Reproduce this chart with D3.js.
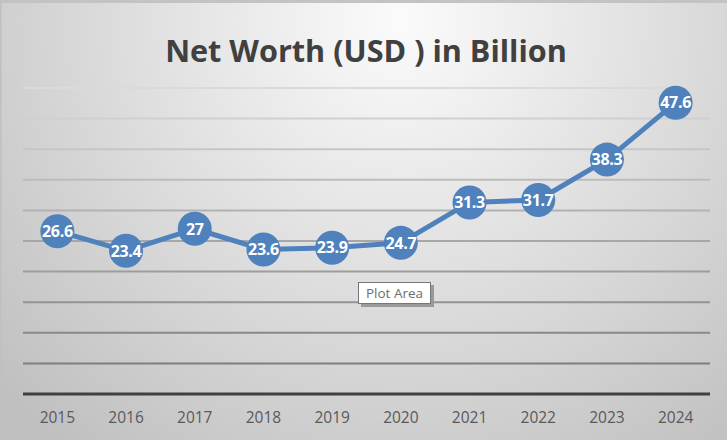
<!DOCTYPE html>
<html>
  <head>
    <meta charset="utf-8">
    <title>Net Worth Line Chart</title>
    <style>
      body { margin: 0; }
      .chart { font-family: "Open Sans", Arial, sans-serif; }
      .x.axis path, .x.axis line { display: none; }
    </style>
  </head>
  <body>
    <div class="chart"></div>

    <script src="https://d3js.org/d3.v7.min.js"></script>
    <script>
      // Chart data
      var years = ["2015", "2016", "2017", "2018", "2019", "2020", "2021", "2022", "2023", "2024"];
      var netWorth = [26.6, 23.4, 27, 23.6, 23.9, 24.7, 31.3, 31.7, 38.3, 47.6];
      var yTicks = [0, 5, 10, 15, 20, 25, 30, 35, 40, 45, 50];

      var W = 727, H = 440;
      var margin = {top: 88, right: 17, bottom: 46, left: 23};
      var width = W - margin.left - margin.right;
      var height = H - margin.top - margin.bottom;

      var svg = d3.select(".chart").append("svg")
        .attr("width", W)
        .attr("height", H);

      // Background gradient, light near the title, darker at the edges
      var defs = svg.append("defs");
      var bg = defs.append("radialGradient")
        .attr("id", "bg")
        .attr("gradientUnits", "userSpaceOnUse")
        .attr("cx", 400).attr("cy", 20).attr("r", 540);
      bg.append("stop").attr("offset", "0%").attr("stop-color", "#fbfbfb");
      bg.append("stop").attr("offset", "40%").attr("stop-color", "#e4e4e4");
      bg.append("stop").attr("offset", "100%").attr("stop-color", "#c0c0c0");

      svg.append("rect")
        .attr("width", W).attr("height", H)
        .attr("fill", "url(#bg)");
      svg.append("rect")
        .attr("width", W).attr("height", 3)
        .attr("fill", "#c3c3c3");
      svg.append("rect")
        .attr("x", 0).attr("y", 0).attr("width", 1.5).attr("height", H)
        .attr("fill", "#c0c0c0");

      // Title
      var title = svg.append("text")
        .attr("x", 366)
        .attr("y", 62)
        .attr("text-anchor", "middle")
        .style("font-family", "'Open Sans', sans-serif")
        .style("font-weight", "bold")
        .style("font-size", "28px")
        .style("fill", "#404040")
        .text("Net Worth (USD ) in Billion");
      var tw = title.node().getComputedTextLength();
      title.style("font-size", (28 * 402 / tw) + "px");

      var g = svg.append("g")
        .attr("transform", "translate(" + margin.left + "," + margin.top + ")");

      var x = d3.scaleBand()
        .domain(years)
        .range([0, width]);

      var y = d3.scaleLinear()
        .domain([0, 50])
        .range([height, 0]);

      // Gridlines, darker toward the bottom
      var gridColor = d3.scaleLinear()
        .domain([50, 5])
        .range(["#dadada", "#7f7f7f"]);

      g.selectAll(".grid")
        .data(yTicks.filter(function(d) { return d > 0; }))
        .enter().append("line")
        .attr("class", "grid")
        .attr("x1", 0).attr("x2", width)
        .attr("y1", function(d) { return y(d); })
        .attr("y2", function(d) { return y(d); })
        .attr("stroke", function(d) { return gridColor(d); })
        .attr("stroke-width", 2);

      // Baseline
      g.append("line")
        .attr("x1", 0).attr("x2", width)
        .attr("y1", y(0)).attr("y2", y(0))
        .attr("stroke", "#404040")
        .attr("stroke-width", 3);

      // X axis labels
      var xAxis = g.append("g")
        .attr("class", "x axis")
        .attr("transform", "translate(0," + height + ")")
        .call(d3.axisBottom(x).tickSize(0).tickPadding(0));
      xAxis.selectAll("text")
        .attr("dy", null)
        .attr("y", 29)
        .style("font-family", "'Open Sans', sans-serif")
        .style("font-size", "15.5px")
        .style("fill", "#595959");

      // Line
      var line = d3.line()
        .x(function(d, i) { return x(years[i]) + x.bandwidth() / 2; })
        .y(function(d) { return y(d); });

      g.append("path")
        .datum(netWorth)
        .attr("fill", "none")
        .attr("stroke", "#4f81bd")
        .attr("stroke-width", 5)
        .attr("stroke-linejoin", "round")
        .attr("d", line);

      // Markers with labels
      var pts = g.selectAll(".pt")
        .data(netWorth)
        .enter().append("g")
        .attr("class", "pt")
        .attr("transform", function(d, i) {
          return "translate(" + (x(years[i]) + x.bandwidth() / 2) + "," + y(d) + ")";
        });

      pts.append("circle")
        .attr("r", 17)
        .attr("fill", "#4f81bd");

      pts.append("text")
        .attr("text-anchor", "middle")
        .attr("dy", "0.36em")
        .style("font-family", "'Open Sans', sans-serif")
        .style("font-weight", "bold")
        .style("font-size", "16px")
        .style("letter-spacing", "-0.3px")
        .style("fill", "#ffffff")
        .text(function(d) { return d; });

      // "Plot Area" tooltip
      var tip = svg.append("g").attr("transform", "translate(358,282)");
      tip.append("rect")
        .attr("x", 3).attr("y", 3)
        .attr("width", 73).attr("height", 22)
        .attr("fill", "#9a9a9a");
      tip.append("rect")
        .attr("x", 0.5).attr("y", 0.5)
        .attr("width", 72).attr("height", 21)
        .attr("fill", "#ffffff")
        .attr("stroke", "#767676");
      tip.append("text")
        .attr("x", 36.5).attr("y", 16)
        .attr("text-anchor", "middle")
        .style("font-family", "'Open Sans', sans-serif")
        .style("font-size", "13.5px")
        .style("fill", "#6d6d6d")
        .text("Plot Area");
    </script>
  </body>
</html>
